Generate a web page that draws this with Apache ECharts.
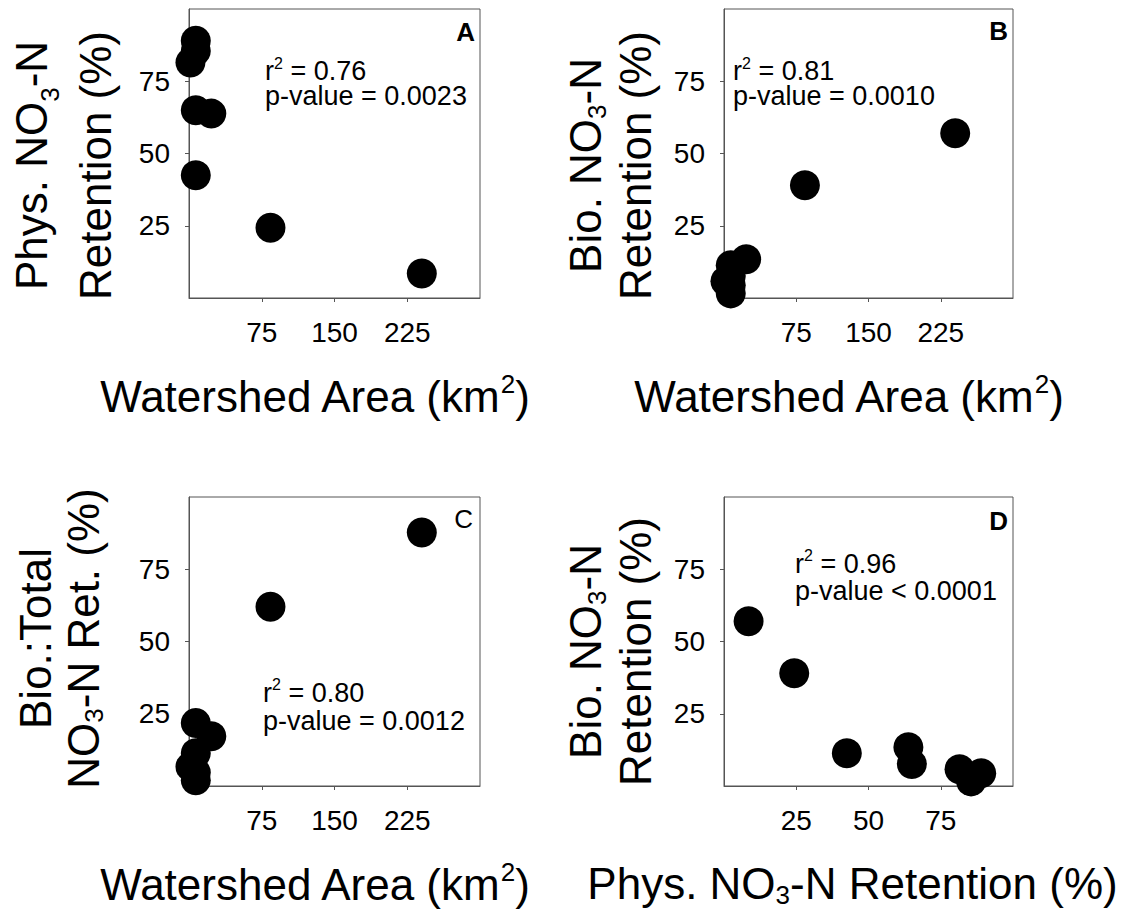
<!DOCTYPE html>
<html><head><meta charset="utf-8">
<script src="https://cdn.jsdelivr.net/npm/echarts@6/dist/echarts.min.js"></script>
<style>html,body{margin:0;padding:0;background:#fff}#c{width:1144px;height:912px}</style>
</head><body><div id="c"></div>
<script>
// ---- data ----
const areaKm2 = [240, 84, 7, 23, 7, 1.5, 7, 7];
const physRet = [8.5, 24.3, 42.5, 63.8, 65, 81.5, 89, 85.5];
const bioRet = [57, 39, 11.3, 13.4, 7.6, 5.8, 4.4, 1.6];
const bioTotalRatio = [87.7, 62, 21.8, 17.2, 11.3, 6.7, 4.7, 2];
const areaTicks = [75, 150, 225];
const pctTicks = [25, 50, 75];
const panelLetters = ['A', 'B', 'C', 'D'];
const statR2 = ['0.76', '0.81', '0.80', '0.96'];
const statP = ['= 0.0023', '= 0.0010', '= 0.0012', '< 0.0001'];

const FONT = "'Liberation Sans', Arial, Helvetica, sans-serif";
const LINE = '#555';

function pairs(xs, ys) { return xs.map((x, i) => [x, ys[i]]); }

const grids = [
  {left: 189, top: 9, width: 291, height: 289},
  {left: 724, top: 9, width: 289, height: 289},
  {left: 189, top: 497, width: 291, height: 289},
  {left: 724, top: 497, width: 289, height: 289}
].map(g => Object.assign({show: true, borderColor: LINE, borderWidth: 1, backgroundColor: 'transparent', containLabel: false, outerBoundsMode: 'none'}, g));

function xAx(gi, max, ticks, name, rich, gap, pad) {
  return {
    type: 'value', gridIndex: gi, min: 0, max: max, interval: max / 4,
    axisLine: {show: true, onZero: false, lineStyle: {color: LINE, width: 1}},
    axisTick: {show: true, inside: false, length: 4, customValues: ticks, lineStyle: {color: LINE}},
    axisLabel: {customValues: ticks, margin: 20, fontSize: 28, color: '#000', fontFamily: FONT},
    splitLine: {show: false},
    name: name, nameLocation: 'middle', nameGap: gap, nameMoveOverlap: false,
    nameTextStyle: {fontFamily: FONT, fontSize: 44, color: '#000', padding: pad, rich: rich}
  };
}
function yAx(gi, ticks, name, rich, gap, pad) {
  return {
    type: 'value', gridIndex: gi, min: 0, max: 100, interval: 25,
    axisLine: {show: true, onZero: false, lineStyle: {color: LINE, width: 1}},
    axisTick: {show: true, inside: false, length: 4, customValues: ticks, lineStyle: {color: LINE}},
    axisLabel: {customValues: ticks, margin: 19, fontSize: 28, color: '#000', fontFamily: FONT},
    splitLine: {show: false},
    name: name, nameLocation: 'middle', nameGap: gap, nameMoveOverlap: false,
    nameTextStyle: {fontFamily: FONT, fontSize: 44, color: '#000', padding: pad, rich: rich}
  };
}
function tStyle(lh) { return {fontFamily: FONT, fontSize: 44, color: '#000', lineHeight: lh}; }
function subStyle(h) { return {fontFamily: FONT, fontSize: 26, color: '#000', lineHeight: h, verticalAlign: 'bottom'}; }
function supStyle(h) { return {fontFamily: FONT, fontSize: 26, color: '#000', lineHeight: h, verticalAlign: 'top'}; }

const areaName = '{t|Watershed Area (km}{sup|2}{t|)}';
const areaRich = {t: tStyle(50), sup: supStyle(19)};

const xAxes = [
  xAx(0, 300, areaTicks, areaName, areaRich, 73, [0, 40, 0, 0]),
  xAx(1, 300, areaTicks, areaName, areaRich, 73, [0, 40, 0, 0]),
  xAx(2, 300, areaTicks, areaName, areaRich, 73, [0, 40, 0, 0]),
  xAx(3, 100, pctTicks, '{t|Phys. NO}{sub|3}{t|-N Retention (%)}', {t: tStyle(50), sub: subStyle(12)}, 72, [0, 32, 0, 0])
];
const yAxes = [
  yAx(0, pctTicks, '{t|Phys. NO}{sub|3}{t|-N}\n{t|Retention (%)}', {t: tStyle(64), sub: subStyle(26)}, 62, [0, 24, 0, 0]),
  yAx(1, pctTicks, '{t|Bio. NO}{sub|3}{t|-N}\n{t|Retention (%)}', {t: tStyle(50), sub: subStyle(12)}, 64, [0, 24, 0, 0]),
  yAx(2, pctTicks, '{t|Bio.:Total}\n{t|NO}{sub|3}{t|-N Ret. (%)}', {t: tStyle(48), sub: subStyle(10)}, 82, [0, 0, 0, 6]),
  yAx(3, pctTicks, '{t|Bio. NO}{sub|3}{t|-N}\n{t|Retention (%)}', {t: tStyle(50), sub: subStyle(12)}, 64, [0, 20, 0, 0])
];

function sc(i, data) {
  return {type: 'scatter', xAxisIndex: i, yAxisIndex: i, data: data, symbol: 'circle', symbolSize: 30,
    itemStyle: {color: '#000', opacity: 1}, clip: false, silent: true, emphasis: {disabled: true}};
}
const series = [
  sc(0, pairs(areaKm2, physRet)),
  sc(1, pairs(areaKm2, bioRet)),
  sc(2, pairs(areaKm2, bioTotalRatio)),
  sc(3, pairs(physRet, bioRet))
];

// annotation positions: [x, top, line1 height, line2 height, sup height]
const letterPos = [[475, 32, 'bold'], [1008, 31, 'bold'], [473, 519, 'normal'], [1008, 521, 'bold']];
const statPos = [[265, 55.6, 30, 20, 2], [733, 55.6, 30, 20, 2], [263, 676.6, 32, 24, 4], [795, 547.6, 32, 22, 4]];
const SF = 27;
const graphics = [];
panelLetters.forEach((L, i) => {
  const p = letterPos[i];
  graphics.push({type: 'text', x: p[0], y: p[1], z: 10, silent: true,
    style: {text: L, fill: '#000', fontFamily: FONT, fontSize: 26, fontWeight: p[2], align: 'right', verticalAlign: 'middle'}});
});
statR2.forEach((r, i) => {
  const p = statPos[i];
  graphics.push({type: 'text', x: p[0], y: p[1], z: 10, silent: true,
    style: {text: '{a|r}{sup|2}{a| = ' + r + '}\n{b|p-value ' + statP[i] + '}',
      fill: '#000', fontFamily: FONT, fontSize: SF, align: 'left', verticalAlign: 'top',
      rich: {a: {fill: '#000', fontFamily: FONT, fontSize: SF, lineHeight: p[2]},
             b: {fill: '#000', fontFamily: FONT, fontSize: SF, lineHeight: p[3]},
             sup: {fill: '#000', fontFamily: FONT, fontSize: 16, lineHeight: p[4], verticalAlign: 'top'}}}});
});

const chart = echarts.init(document.getElementById('c'), null, {renderer: 'svg', width: 1144, height: 912});
chart.setOption({
  animation: false,
  backgroundColor: '#fff',
  grid: grids,
  xAxis: xAxes,
  yAxis: yAxes,
  series: series,
  graphic: graphics
});
</script>
</body></html>
